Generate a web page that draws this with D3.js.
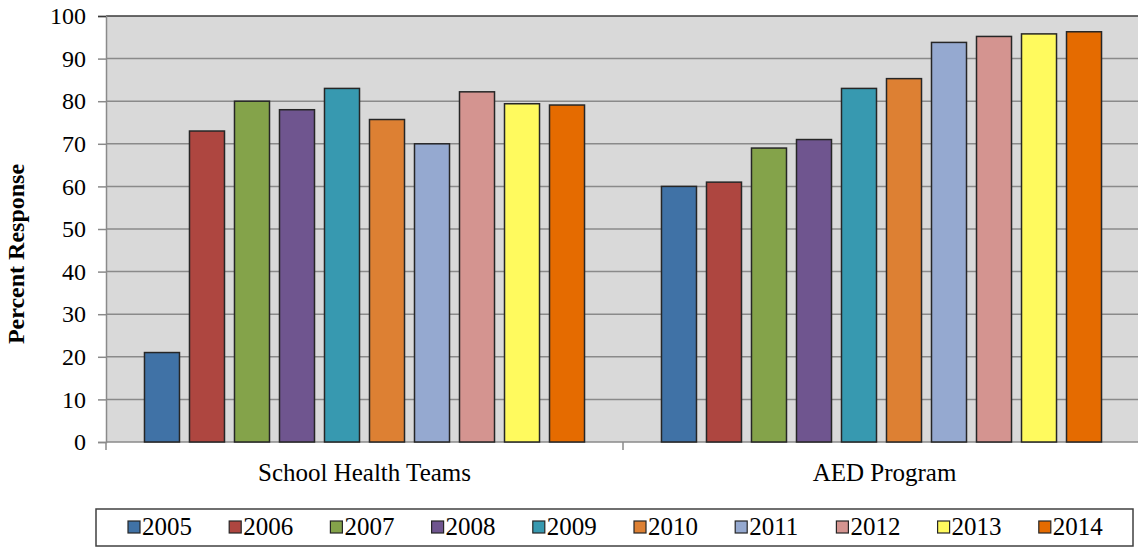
<!DOCTYPE html>
<html><head><meta charset="utf-8">
<script src="https://cdn.jsdelivr.net/npm/d3@7"></script>
<style>body{margin:0;background:#fff}svg{display:block}text{font-family:"Liberation Serif","Times New Roman",serif;fill:#000}</style>
</head><body><svg id="c" width="1138" height="548"></svg>
<script>
const categories = ["School Health Teams", "AED Program"];
const years = ["2005","2006","2007","2008","2009","2010","2011","2012","2013","2014"];
const schoolHealthTeams = [21, 73, 80, 78, 83, 75.7, 70, 82.2, 79.4, 79.1];
const aedProgram = [60, 61, 69, 71, 83, 85.3, 93.8, 95.2, 95.8, 96.3];
const seriesValues = [schoolHealthTeams, aedProgram];
const yTicks = [0,10,20,30,40,50,60,70,80,90,100];
const colors = ["#4072a6","#ae4640","#84a34a","#6f558f","#3799b0","#dd8033","#95a9d0","#d49490","#fffa5e","#e56b00"];

const FONT = "'Liberation Serif', 'Times New Roman', serif";
const svg = d3.select("#c");
const L = 106, R = 1140, T = 16, B = 442;
const x0 = d3.scaleBand().domain(categories).range([L, R]).padding(0);
const x1 = d3.scaleBand().domain(years).range([0, x0.bandwidth()]).paddingInner(0.222).paddingOuter(0.855);
const y = d3.scaleLinear().domain([0,100]).range([B, T]);

svg.append("rect").attr("x", L).attr("y", T).attr("width", R-L).attr("height", B-T).attr("fill", "#d9d9d9");

// gridlines
svg.append("g").selectAll("line").data(yTicks.filter(d=>d>0)).join("line")
  .attr("x1", L).attr("x2", R).attr("y1", d=>y(d)).attr("y2", d=>y(d))
  .attr("stroke", d=> d===100 ? "#3a3a3a" : "#8a8a8a").attr("stroke-width", 1.5);

// y axis
const yAxis = d3.axisLeft(y).tickValues(yTicks).tickSize(8).tickPadding(12);
const gy = svg.append("g").attr("transform", `translate(${L},0)`).call(yAxis)
  .attr("font-family", FONT).attr("font-size", 24);
gy.select(".domain").attr("stroke", "#8a8a8a").attr("stroke-width", 1.5);
gy.selectAll(".tick line").attr("stroke", d=> d===100 ? "#3a3a3a" : "#8a8a8a").attr("stroke-width", 1.5);
gy.selectAll(".tick text").attr("fill", "#000");

// x axis
const gx = svg.append("g").attr("transform", `translate(0,${B})`);
gx.append("line").attr("x1", L).attr("x2", R).attr("stroke", "#8a8a8a").attr("stroke-width", 1.5);
gx.selectAll("line.t").data([L, x0(categories[1]), R]).join("line").attr("class","t")
  .attr("x1", d=>d).attr("x2", d=>d).attr("y1", 0).attr("y2", 8).attr("stroke", "#8a8a8a").attr("stroke-width", 1.5);
gx.selectAll("text").data(categories).join("text")
  .attr("x", d=>x0(d)+x0.bandwidth()/2 + (d===categories[1]?3:0)).attr("y", 39)
  .attr("text-anchor","middle").attr("font-family", FONT).attr("font-size", 25).text(d=>d);

// bars
categories.forEach((c, ci) => {
  svg.append("g").selectAll("rect").data(years.map((yr,i)=>({yr, v: seriesValues[ci][i], i}))).join("rect")
    .attr("x", d=>x0(c)+x1(d.yr)).attr("width", x1.bandwidth())
    .attr("y", d=>y(d.v)).attr("height", d=>B - y(d.v))
    .attr("fill", d=>colors[d.i]).attr("stroke", "#262626").attr("stroke-width", 1.5);
});

// y label
svg.append("text").attr("transform", "translate(24,254) rotate(-90)").attr("text-anchor","middle")
  .attr("font-family", FONT).attr("font-size", 24).attr("font-weight","bold").text("Percent Response");

// legend
svg.append("rect").attr("x", 96).attr("y", 509).attr("width", 1037).attr("height", 37)
  .attr("fill", "#fff").attr("stroke", "#404040").attr("stroke-width", 1.5);
const lg = svg.append("g").selectAll("g").data(years).join("g")
  .attr("transform", (d,i)=>`translate(${128 + i*101.2},521)`);
lg.append("rect").attr("width", 12).attr("height", 12).attr("fill", (d,i)=>colors[i]).attr("stroke", "#262626").attr("stroke-width", 1.2);
lg.append("text").attr("x", 14).attr("y", 14).attr("font-family", FONT).attr("font-size", 25).text(d=>d);
</script></body></html>
